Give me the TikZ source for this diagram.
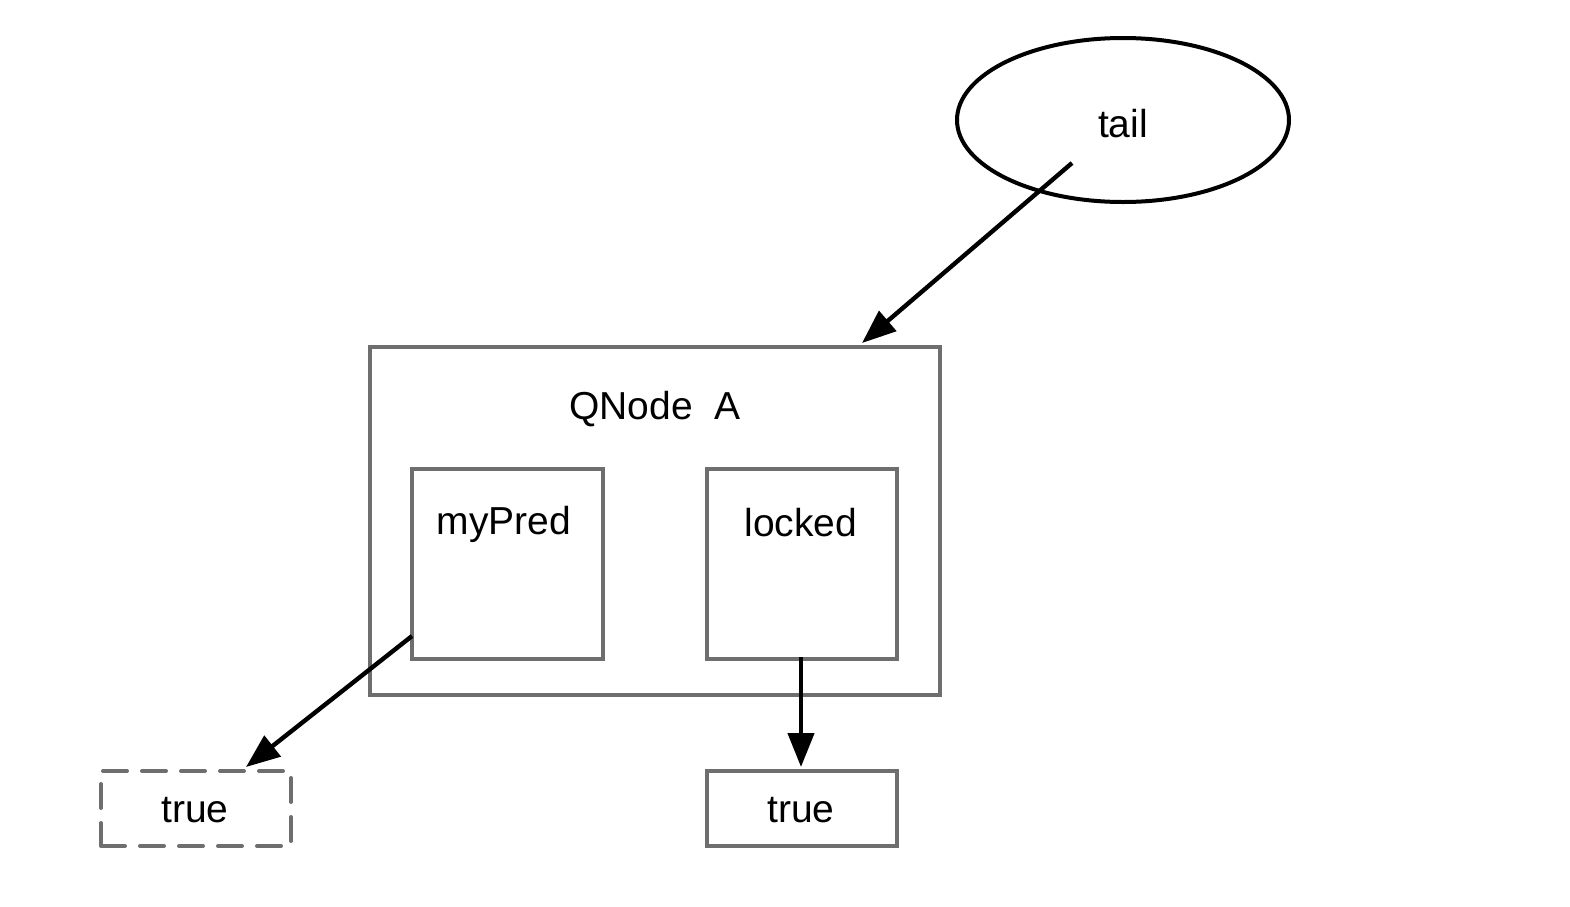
\documentclass[tikz,border=0pt]{standalone}
\usepackage{fontspec}
\setmainfont{Liberation Sans}
\usetikzlibrary{shapes.geometric,arrows.meta}
\definecolor{boxgray}{HTML}{6E6E6E}
\begin{document}
\begin{tikzpicture}[x=0.5pt,y=-0.5pt,
  every node/.style={font=\fontsize{19.5pt}{23pt}\selectfont, inner sep=0pt},
  box/.style={draw=boxgray, line width=2pt, rectangle, anchor=north west},
  conn/.style={draw=black, line width=2.2pt, -{Triangle[length=17pt,width=13pt]}},
  lbl/.style={text=black}]
\useasboundingbox (0,0) rectangle (1570,906);
% ellipse
\node[draw=black, line width=2pt, ellipse, minimum width=166pt, minimum height=82pt] (tail) at (1123,120) {};
\node[lbl] (taillbl) at (1123,124) {tail};
% outer box
\node[box, minimum width=285pt, minimum height=174pt] (qnode) at (368,345) {};
\node[lbl] (qlbl) at (655,409) {QNode\ \ A};
% inner boxes
\node[box, minimum width=95.5pt, minimum height=95pt] (mypred) at (410,467) {};
\node[lbl] (mylbl) at (504,524) {myPred};
\node[box, minimum width=95pt, minimum height=95pt] (locked) at (705,467) {};
\node[lbl] (locklbl) at (801,523) {locked};
% bottom boxes
\node[box, dash pattern=on 12pt off 7.5pt, line cap=round, minimum width=95pt, minimum height=37.5pt] (truea) at (99,769) {};
\node[lbl] (truealbl) at (195,810) {true};
\node[box, minimum width=95pt, minimum height=37.5pt] (trueb) at (705,769) {};
\node[lbl] (trueblbl) at (801,810) {true};
% connector endpoints
\coordinate (tailstart) at (1072,163);
\coordinate (qtop) at (862,343);
\coordinate (predstart) at (412,636);
\coordinate (trueatop) at (246,767);
\coordinate (lockstart) at (801,657);
\coordinate (truebtop) at (801,767);
\draw[conn] (tailstart) -- (qtop);
\draw[conn] (predstart) -- (trueatop);
\draw[conn] (lockstart) -- (truebtop);
\end{tikzpicture}
\end{document}
